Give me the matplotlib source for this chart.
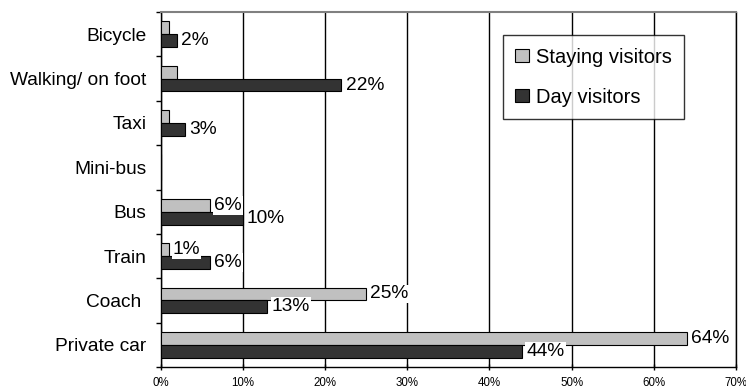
import numpy as np
import matplotlib.pyplot as plt
from matplotlib.ticker import FixedLocator, PercentFormatter

plt.rcParams['font.family'] = ['Liberation Sans', 'DejaVu Sans']

# transport mode, bottom to top
modes = ['Private car', 'Coach ', 'Train', 'Bus', 'Mini-bus', 'Taxi',
         'Walking/ on foot', 'Bicycle']
staying = [64, 25, 1, 6, 0, 1, 2, 1]
day = [44, 13, 6, 10, 0, 3, 22, 2]
# which bars carry a value label
staying_labelled = [True, True, True, True, False, False, False, False]
day_labelled = [True, True, True, True, False, True, True, True]

light = '#c0c0c0'
dark = '#333333'

fig = plt.figure(figsize=(7.46, 3.89), dpi=100)
ax = fig.add_axes([0.2152, 0.0566, 0.7714, 0.9125])

y = np.arange(len(modes))
h = 0.29
ax.barh(y + h / 2, staying, height=h, color=light, edgecolor='black',
        linewidth=0.8, zorder=3, label='Staying visitors')
ax.barh(y - h / 2, day, height=h, color=dark, edgecolor='black',
        linewidth=0.8, zorder=3, label='Day visitors')

box = dict(boxstyle='square,pad=0.05', facecolor='white', edgecolor='none')
for yi, v, show in zip(y, staying, staying_labelled):
    if show:
        ax.annotate(f'{v}%', (v, yi + h / 2), xytext=(3, 0),
                    textcoords='offset points', va='center', ha='left',
                    fontsize=13.8, bbox=box, zorder=4)
for yi, v, show in zip(y, day, day_labelled):
    if show:
        ax.annotate(f'{v}%', (v, yi - h / 2), xytext=(3, 0),
                    textcoords='offset points', va='center', ha='left',
                    fontsize=13.8, bbox=box, zorder=4)

ax.set_xlim(0, 70)
ax.set_ylim(-0.5, len(modes) - 0.5)
ax.set_xticks(np.arange(0, 71, 10))
ax.xaxis.set_major_formatter(PercentFormatter(decimals=0))
ax.set_yticks(y)
ax.set_yticklabels(modes, fontsize=13.8)
ax.yaxis.set_minor_locator(FixedLocator(np.arange(-0.5, len(modes), 1)))

ax.tick_params(axis='x', direction='inout', length=5, width=1,
               labelsize=8.3, pad=4.5)
ax.tick_params(axis='y', which='major', length=0, pad=10)
ax.tick_params(axis='y', which='minor', direction='out', length=3.6, width=1)

ax.grid(axis='x', color='black', linewidth=1, zorder=0)
ax.set_axisbelow(True)
for side in ['left', 'bottom', 'right']:
    ax.spines[side].set_color('black')
    ax.spines[side].set_linewidth(1)
ax.spines['top'].set_color('#808080')
ax.spines['top'].set_linewidth(1.5)

handles, labels = ax.get_legend_handles_labels()
leg = ax.legend(handles, labels, loc='upper left',
                bbox_to_anchor=(0.595, 0.934), fontsize=14.5,
                frameon=True, fancybox=False, handlelength=0.67,
                handleheight=0.67, handletextpad=0.35, labelspacing=1.05,
                borderpad=0.6, borderaxespad=0)
leg.get_frame().set_edgecolor('black')
leg.get_frame().set_linewidth(1)
leg.set_zorder(5)

fig.savefig('out.png', dpi=100)
